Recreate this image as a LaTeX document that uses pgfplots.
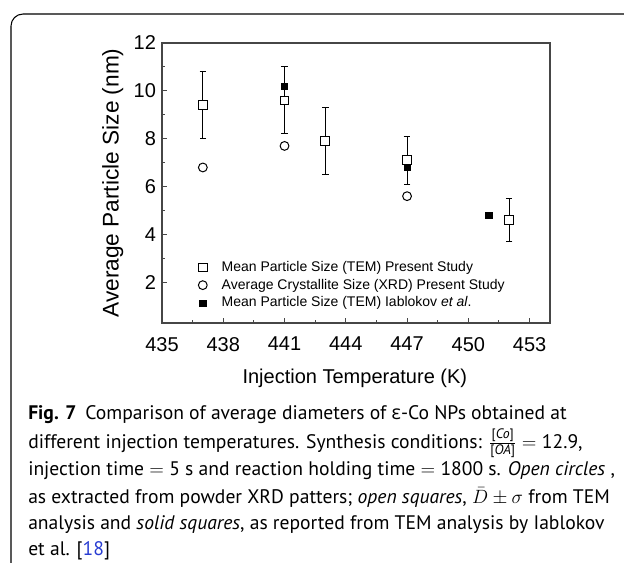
\documentclass[border=0pt]{standalone}
\usepackage{fontspec}
\usepackage{amsmath}
\usepackage{pgfplots}
\pgfplotsset{compat=1.18}
\setmainfont{Liberation Sans}
\newfontfamily\capfont{PT Sans}
\newfontfamily\grkfont{Open Sans}
\definecolor{linkblue}{RGB}{40,60,210}
\definecolor{axgray}{RGB}{70,70,70}
\begin{document}
\begin{tikzpicture}
\path[use as bounding box] (0,0) rectangle (468pt,-421.5pt);
\begin{scope}[x=0.75pt,y=-0.75pt]
\draw[line width=0.8pt, rounded corners=9pt] (11,580) -- (11,14) -- (640,14);
\end{scope}
\begin{axis}[
  at={(121.5pt,-242.25pt)}, anchor=south west,
  scale only axis, width=291pt, height=210pt,
  xmin=435, xmax=454, ymin=0.3, ymax=12,
  xtick={435,438,...,453}, minor x tick num=1,
  ytick={2,4,...,12}, minor y tick num=1,
  tick align=inside, xtick pos=bottom, ytick pos=left,
  major tick length=4pt, minor tick length=2.5pt,
  axis line style={axgray, line width=1pt},
  every tick/.style={axgray, line width=0.8pt},
  /pgf/number format/assume math mode=true,
  tick label style={font=\fontsize{15pt}{18pt}\selectfont},
  xticklabel style={yshift=-7pt},
  yticklabel style={xshift=-1pt},
  xlabel={Injection Temperature (K)},
  ylabel={Average Particle Size (nm)},
  xlabel style={font=\fontsize{15pt}{18pt}\selectfont, at={(axis description cs:0.497,-0.198)}, anchor=center},
  ylabel style={font=\fontsize{17pt}{20pt}\selectfont, at={(axis description cs:-0.127,0.5)}, anchor=center, rotate=0},
  legend cell align=left,
  legend style={draw=none, fill=none, inner sep=0pt, column sep=9pt, row sep=2.2pt,
    nodes={inner sep=1pt}, font=\fontsize{10.5pt}{12pt}\selectfont,
    at={(0.090,0.226)}, anchor=north west},
  legend image code/.code={\path (-4pt,0pt) (4pt,0pt); \draw[#1] plot coordinates {(0pt,0pt)};},
]
\addplot[only marks, mark=square*, mark size=3.3pt, mark options={fill=white, draw=black, line width=0.75pt},
  error bars/.cd, y dir=both, y explicit,
  error bar style={line width=0.75pt, black},
  error mark options={rotate=90, mark size=2.5pt, line width=0.75pt, black}]
  coordinates {
  (437,9.4) +- (0,1.4)
  (441,9.6) +- (0,1.4)
  (443,7.9) +- (0,1.4)
  (447,7.1) +- (0,1.0)
  (452,4.6) +- (0,0.9)
  };
\addlegendentry{Mean Particle Size (TEM) Present Study}
\addplot[only marks, mark=o, mark size=3.3pt, mark options={draw=black, line width=0.75pt}]
  coordinates {(437,6.8) (441,7.7) (447,5.6)};
\addlegendentry{Average Crystallite Size (XRD) Present Study}
\addplot[only marks, mark=square*, mark size=2.3pt, mark options={fill=black, draw=black}]
  coordinates {(441,10.2) (447,6.8) (451,4.8)};
\addlegendentry{Mean Particle Size (TEM) Iablokov \textit{et al}.}
\end{axis}
\begin{scope}[x=0.75pt,y=-0.75pt, every node/.style={anchor=base west, inner sep=0pt, font=\capfont\fontsize{14.7pt}{17pt}\selectfont}]
\node at (28,419) {\textbf{Fig. 7}\hspace{0.45em}Comparison of average diameters of {\grkfont ε}-Co NPs obtained at};
\node at (28,448) {different injection temperatures. Synthesis conditions: $\frac{\text{[\textit{Co}]}}{\text{[\textit{OA}]}}={}$12.9,};
\node at (28,475) {injection time $=$ 5 s and reaction holding time $=$ 1800 s. \textit{Open circles} ,};
\node at (28,503) {as extracted from powder XRD patters; \textit{open squares}, $\smash[t]{\bar{D}}\pm\sigma$ from TEM};
\node at (28,529) {analysis and \textit{solid squares}, as reported from TEM analysis by Iablokov};
\node at (28,555) {et al. [\textcolor{linkblue}{18}]};
\end{scope}
\end{tikzpicture}
\end{document}
